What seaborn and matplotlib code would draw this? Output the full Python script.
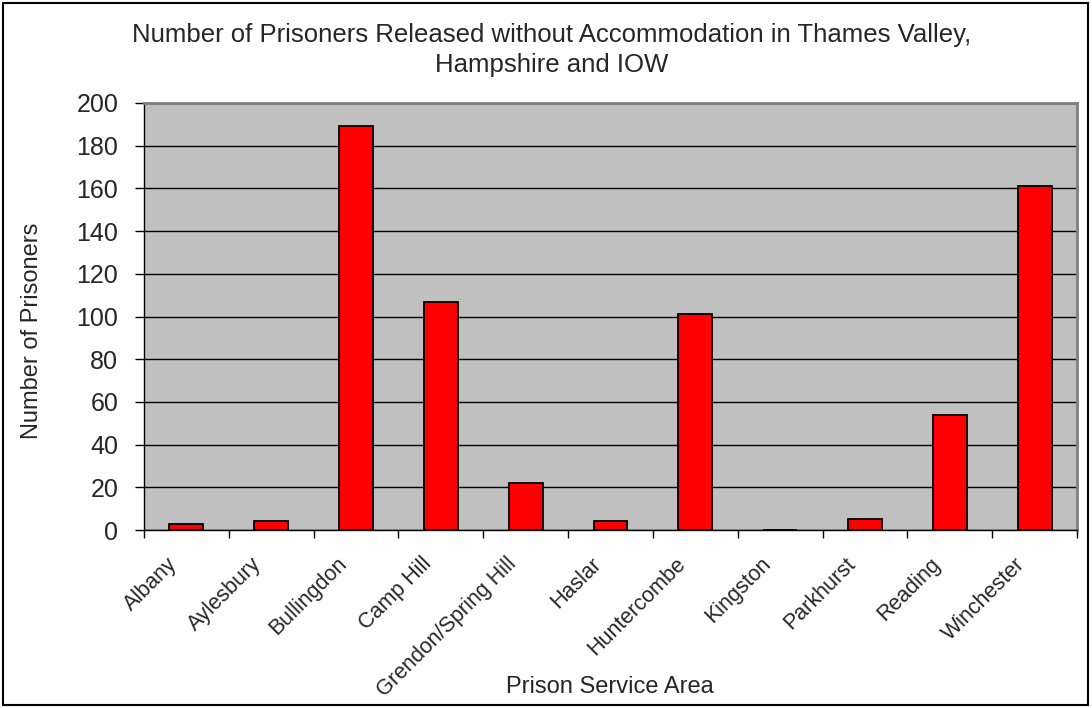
import matplotlib
matplotlib.use("Agg")
import matplotlib.pyplot as plt
import matplotlib.patches as mpatches
from matplotlib.transforms import ScaledTranslation
import seaborn as sns
import pandas as pd
import numpy as np

prisons = ["Albany", "Aylesbury", "Bullingdon", "Camp Hill", "Grendon/Spring Hill",
           "Haslar", "Huntercombe", "Kingston", "Parkhurst", "Reading", "Winchester"]
released = [3, 4, 189, 107, 22, 4, 101, 0, 5, 54, 161]
y_ticks = [0, 20, 40, 60, 80, 100, 120, 140, 160, 180, 200]

df = pd.DataFrame({"Prison": prisons, "Released": released})

sns.set_theme(style="white")
plt.rcParams["font.family"] = ["Liberation Sans", "DejaVu Sans"]

W, H = 1092, 708
fig = plt.figure(figsize=(W / 100, H / 100), dpi=100)
ax = fig.add_axes([144 / W, 1 - 530 / H, (1077 - 144) / W, (530 - 103) / H])
ax.set_facecolor("#C0C0C0")

sns.barplot(data=df, x="Prison", y="Released", ax=ax, color="#FF0000",
            width=0.4, edgecolor="black", linewidth=1.3, saturation=1, zorder=3)

ax.set_xlim(-0.5, len(prisons) - 0.5)
ax.set_ylim(0, 200)
ax.set_yticks(y_ticks)
ax.set_yticklabels([str(v) for v in y_ticks], fontsize=18)
ax.yaxis.grid(True, color="black", linewidth=1.0, zorder=1)
ax.set_axisbelow(True)

# tick marks at category boundaries, labels at category centres
ax.set_xticks(np.arange(-0.5, len(prisons), 1.0))
ax.set_xticklabels([])
ax.set_xticks(np.arange(len(prisons)), minor=True)
ax.set_xticklabels(prisons, minor=True, rotation=45, ha="right",
                   rotation_mode="anchor", fontsize=15.5)
ax.tick_params(axis="x", which="minor", length=0, pad=17)
ax.tick_params(axis="x", which="major", direction="out", length=6, width=1, color="black", bottom=True)
ax.tick_params(axis="y", direction="out", length=6.5, width=1, color="black", left=True, pad=12)
shift = ScaledTranslation(-20 / 100, 0, fig.dpi_scale_trans)
for lab in ax.get_xticklabels(minor=True):
    lab.set_transform(lab.get_transform() + shift)

ax.set_xlabel("")
ax.set_ylabel("")

for side in ["left", "bottom"]:
    ax.spines[side].set_color("black")
    ax.spines[side].set_linewidth(1.0)
for side in ["top", "right"]:
    ax.spines[side].set_color("#808080")
    ax.spines[side].set_linewidth(2.0)

fig.text(552 / W, 1 - 50 / H,
         "Number of Prisoners Released without Accommodation in Thames Valley,\nHampshire and IOW",
         ha="center", va="center", fontsize=18.5, linespacing=1.35)
fig.text(32 / W, 1 - 331 / H, "Number of Prisoners", rotation=90,
         ha="center", va="center", fontsize=17)
fig.text(610 / W, 1 - 687 / H, "Prison Service Area", ha="center", va="center", fontsize=17)

frame = mpatches.Rectangle((3 / W, 3 / H), 1 - 7 / W, 1 - 6 / H, transform=fig.transFigure,
                           fill=False, edgecolor="black", linewidth=1.5)
fig.patches.append(frame)

fig.savefig("out.png", dpi=100)
